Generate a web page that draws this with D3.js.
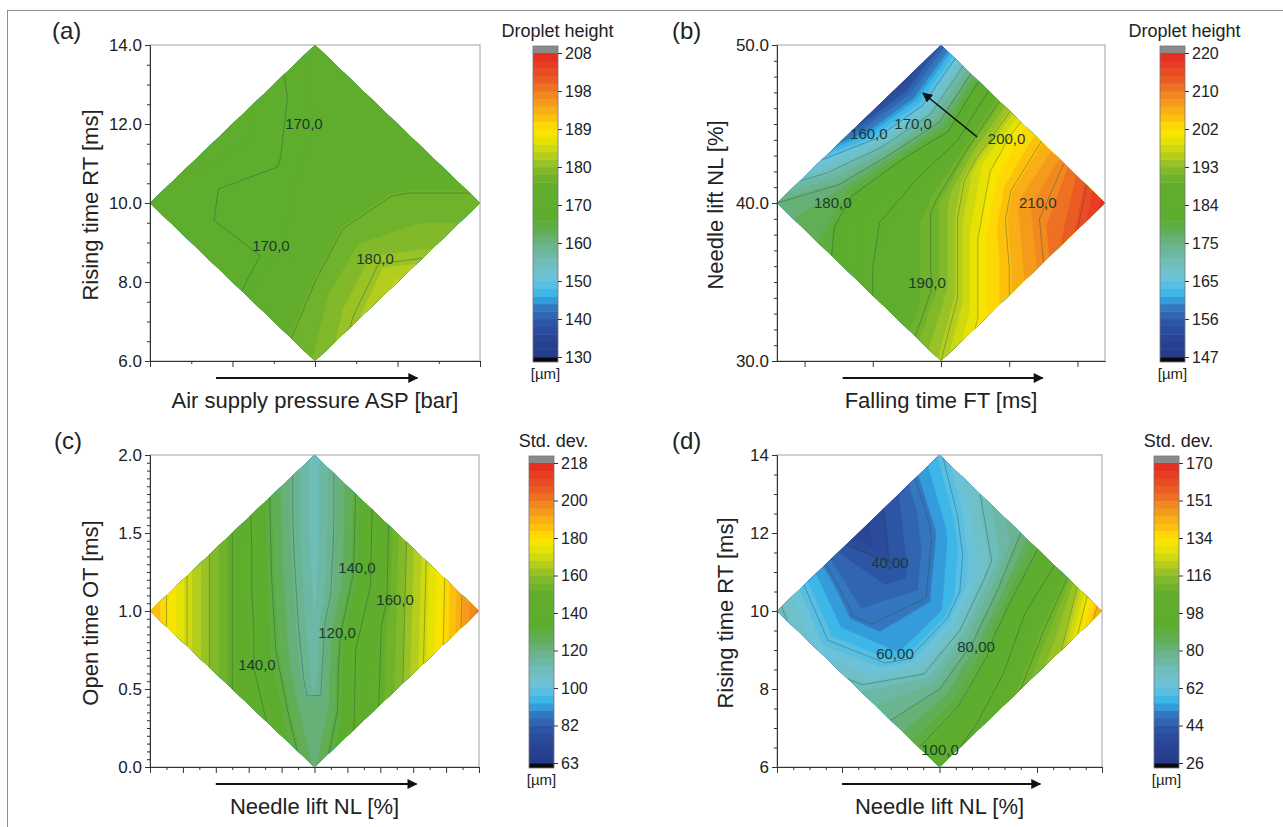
<!DOCTYPE html>
<html>
<head>
<meta charset="utf-8">
<script src="https://cdn.jsdelivr.net/npm/d3@7"></script>
<style>
body { margin: 0; background: #fff; }
svg { display: block; font-family: "Liberation Sans", Arial, sans-serif; }
</style>
</head>
<body>
<svg id="chart" width="1283" height="827"></svg>
<script>
// Node values on a 5x5 mesh laid over each diamond (the design space).
// rows: v = 0 .. 1  (upper-left edge -> lower-right edge)
// cols: u = 0 .. 1  (lower-left edge -> upper-right edge)
// so [0][0] = left corner, [0][4] = top, [4][0] = bottom, [4][4] = right corner
var grid_a = [
	[170, 168.5, 168.5, 169.5, 171.5],
	[169, 170.8, 169.8, 171, 172],
	[169, 170.5, 172, 172.5, 172.8],
	[173.5, 175, 176.5, 175.5, 173.5],
	[177, 180.5, 183, 178, 175.5]
];
var grid_b = [
	[175, 166, 155, 152, 156],
	[178, 183, 181, 176, 182],
	[184, 187, 191, 198, 201],
	[187, 191, 201, 208, 210],
	[195, 201, 207, 213, 219]
];
var grid_c = [
	[188, 168, 150, 128, 111],
	[168, 150, 129, 111, 130],
	[150, 131, 113, 131, 155],
	[138, 116, 140, 156, 176],
	[124, 141, 157, 177, 200]
];
var grid_d = [
	[72, 54, 34, 44, 59],
	[64, 48, 42, 52, 70],
	[72, 54, 54, 66, 80],
	[82, 80, 86, 98, 104],
	[98, 102, 110, 120, 145]
];

// colour bar ranges and tick labels (bottom -> top)
var range_a = [130, 208];
var range_b = [147, 220];
var range_c = [63, 218];
var range_d = [26, 170];
var cbar_a = ["130", "140", "150", "160", "170", "180", "189", "198", "208"];
var cbar_b = ["147", "156", "165", "175", "184", "193", "202", "210", "220"];
var cbar_c = ["63", "82", "100", "120", "140", "160", "180", "200", "218"];
var cbar_d = ["26", "44", "62", "80", "98", "116", "134", "151", "170"];

// y axis tick labels
var yticks_a = [6, 8, 10, 12, 14];
var yticks_b = [30, 40, 50];
var yticks_c = [0, 0.5, 1, 1.5, 2];
var yticks_d = [6, 8, 10, 12, 14];

// x axes are unlabeled, ticks in coded units (-1 .. 1)
var xticks_a = [-1, -0.5, 0, 0.5, 1];
var xticks_b = [-0.832, -0.416, 0, 0.416, 0.832];
var xticks_c = [-1, -0.8, -0.6, -0.4, -0.2, 0, 0.2, 0.4, 0.6, 0.8, 1];
var xticks_d = [-1, -0.6, 0, 0.6, 1];

// contour labels: [level, x (coded), y]
var labels_a = [[170, -0.067, 12.0], [170, -0.267, 8.91], [180, 0.364, 8.58]];
var labels_b = [[160, -0.44, 44.37], [170, -0.17, 45.0], [200, 0.40, 44.05],
	[180, -0.66, 40.0], [210, 0.59, 40.0], [190, -0.085, 34.94]];
var labels_c = [[140, 0.258, 1.276], [160, 0.49, 1.07], [120, 0.137, 0.859], [140, -0.35, 0.654]];
var labels_d = [[40, -0.305, 11.23], [60, -0.274, 8.9], [80, 0.225, 9.08], [100, 0.003, 6.44]];

// colour ramp of the bars (position 0 = bottom, 1 = top)
var rampPos = [0, 0.07, 0.12, 0.16, 0.18, 0.20, 0.23, 0.26, 0.30, 0.34, 0.38, 0.42, 0.46, 0.57,
	0.61, 0.645, 0.675, 0.72, 0.75, 0.785, 0.82, 0.86, 0.90, 0.95, 1];
var rampCol = ["#243a8a", "#2a4696", "#2e58a8", "#3474bc", "#3a8ed2", "#2cb2ea", "#52bde6", "#6cc2d8",
	"#70bfc2", "#6cb8a2", "#68b182", "#60ad4c", "#5cac2e", "#62ae2c", "#80b82a", "#a0c526", "#c4d416",
	"#ece500", "#ffe400", "#fcc20c", "#f8a818", "#f28a20", "#ec6424", "#e84424", "#e42820"];
var NB_BANDS = 40;

var ramp = d3.scaleLinear().domain(rampPos).range(rampCol).interpolate(d3.interpolateRgb);
var de = d3.formatLocale({decimal: ",", thousands: ".", grouping: [3], currency: ["", ""]});
var fmtLevel = de.format(".4r");

var svg = d3.select("#chart");
var defs = svg.append("defs");

// outer frame of the figure (only top and left edge fall inside the picture)
svg.append("rect")
	.attr("x", 7.5).attr("y", 10.5)
	.attr("width", 1290).attr("height", 840)
	.attr("fill", "none").attr("stroke", "#8c8c8c").attr("stroke-width", 1);

defs.append("marker")
	.attr("id", "head")
	.attr("viewBox", "0 0 10 10")
	.attr("refX", 9).attr("refY", 5)
	.attr("markerUnits", "userSpaceOnUse")
	.attr("markerWidth", 13).attr("markerHeight", 10)
	.attr("orient", "auto")
	.append("path").attr("d", "M0,0L10,5L0,10Z").attr("fill", "#111");

var panels = [
	{id: "a", letter: "(a)", grid: grid_a, range: range_a, cbar: cbar_a, yDomain: [6, 14], yticks: yticks_a,
		yfmt: ".1f", yminor: 0.5, xticks: xticks_a, xminor: [-0.75, -0.25, 0.25, 0.75], lineStep: 5,
		labels: labels_a, cbTitle: "Droplet height", xTitle: "Air supply pressure ASP [bar]",
		yTitle: "Rising time RT [ms]", box: [150, 480, 45, 361], cbX: 533, lx: 52, ytx: 98},
	{id: "b", letter: "(b)", grid: grid_b, range: range_b, cbar: cbar_b, yDomain: [30, 50], yticks: yticks_b,
		yfmt: ".1f", yminor: 1, xticks: xticks_b, xminor: [], lineStep: 5,
		labels: labels_b, cbTitle: "Droplet height", xTitle: "Falling time FT [ms]",
		yTitle: "Needle lift NL [%]", box: [777, 1105, 45, 361], cbX: 1160, lx: 672, ytx: 723, arrow: [[0.22, 44.18], [-0.11, 46.96]]},
	{id: "c", letter: "(c)", grid: grid_c, range: range_c, cbar: cbar_c, yDomain: [0, 2], yticks: yticks_c,
		yfmt: ".1f", yminor: 0.05, xticks: xticks_c, xminor: [-0.9, -0.7, -0.5, -0.3, -0.1, 0.1, 0.3, 0.5, 0.7, 0.9], lineStep: 10,
		labels: labels_c, cbTitle: "Std. dev.", xTitle: "Needle lift NL [%]",
		yTitle: "Open time OT [ms]", box: [150, 479, 455, 767], cbX: 529, lx: 54, ytx: 98},
	{id: "d", letter: "(d)", grid: grid_d, range: range_d, cbar: cbar_d, yDomain: [6, 14], yticks: yticks_d,
		yfmt: "d", yminor: 0.5, xticks: xticks_d, xminor: [-0.9, -0.8, -0.7, -0.5, -0.4, -0.3, -0.2, -0.1, 0.1, 0.2, 0.3, 0.4, 0.5, 0.7, 0.8, 0.9], lineStep: 10,
		labels: labels_d, cbTitle: "Std. dev.", xTitle: "Needle lift NL [%]",
		yTitle: "Rising time RT [ms]", box: [777, 1102, 455, 767], cbX: 1154, lx: 672, ytx: 733}
];

panels.forEach(drawPanel);

function drawPanel(p) {
	var x0 = p.box[0], x1 = p.box[1], y0 = p.box[2], y1 = p.box[3];
	var g = svg.append("g");
	var x = d3.scaleLinear().domain([-1, 1]).range([x0, x1]);
	var y = d3.scaleLinear().domain(p.yDomain).range([y1, y0]);
	var n = p.grid.length;
	var values = [].concat.apply([], p.grid);
	var ymid = (p.yDomain[0] + p.yDomain[1]) / 2;
	var yhalf = (p.yDomain[1] - p.yDomain[0]) / 2;

	// mesh coordinates -> data -> screen
	var proj = d3.geoTransform({
		point: function(cx, cy) {
			var u = (cx - 0.5) / (n - 1), v = (cy - 0.5) / (n - 1);
			this.stream.point(x(-1 + u + v), y(ymid + (u - v) * yhalf));
		}
	});
	var path = d3.geoPath(proj);

	var diamond = [[x(-1), y(ymid)], [x(0), y(p.yDomain[1])], [x(1), y(ymid)], [x(0), y(p.yDomain[0])]];
	defs.append("clipPath").attr("id", "clip-" + p.id)
		.append("polygon").attr("points", diamond.map(d => d.join(",")).join(" "));

	var lo = p.range[0], hi = p.range[1];
	var thr = d3.range(NB_BANDS).map(k => lo + k * (hi - lo) / NB_BANDS);
	var bands = d3.contours().size([n, n]).thresholds(thr)(values);

	var plot = g.append("g").attr("clip-path", "url(#clip-" + p.id + ")");
	plot.selectAll("path.band")
		.data(bands)
		.join("path")
		.attr("class", "band")
		.attr("d", path)
		.attr("fill", (d, i) => ramp((i + 0.5) / NB_BANDS))
		.attr("stroke", (d, i) => ramp((i + 0.5) / NB_BANDS))
		.attr("stroke-width", 0.4);

	var levels = d3.range(Math.ceil(lo / p.lineStep) * p.lineStep, hi, p.lineStep);
	var lines = d3.contours().size([n, n]).thresholds(levels)(values);
	plot.selectAll("path.iso")
		.data(lines)
		.join("path")
		.attr("class", "iso")
		.attr("d", path)
		.attr("fill", "none")
		.attr("stroke", "#1d4a3c")
		.attr("stroke-opacity", 0.45)
		.attr("stroke-width", 0.8);

	g.selectAll("text.lvl")
		.data(p.labels)
		.join("text")
		.attr("class", "lvl")
		.attr("x", d => x(d[1]))
		.attr("y", d => y(d[2]))
		.attr("dy", "0.35em")
		.attr("text-anchor", "middle")
		.attr("font-size", 15)
		.attr("fill", "#1b3a30")
		.text(d => fmtLevel(d[0]));

	if (p.arrow) {
		g.append("line")
			.attr("x1", x(p.arrow[0][0])).attr("y1", y(p.arrow[0][1]))
			.attr("x2", x(p.arrow[1][0])).attr("y2", y(p.arrow[1][1]))
			.attr("stroke", "#111").attr("stroke-width", 1.5)
			.attr("marker-end", "url(#head)");
	}

	// frame
	g.append("rect")
		.attr("x", x0).attr("y", y0).attr("width", x1 - x0).attr("height", y1 - y0)
		.attr("fill", "none").attr("stroke", "#a0a0a0").attr("stroke-width", 1);

	// y axis
	var yMinorVals = d3.range(p.yDomain[0], p.yDomain[1] + 1e-9, p.yminor);
	g.append("g")
		.attr("transform", "translate(" + x0 + ",0)")
		.call(d3.axisLeft(y).tickValues(yMinorVals).tickFormat("").tickSize(3).tickSizeOuter(0));
	g.append("g")
		.attr("class", "yax")
		.attr("transform", "translate(" + x0 + ",0)")
		.call(d3.axisLeft(y).tickValues(p.yticks).tickFormat(d3.format(p.yfmt)).tickSize(5).tickSizeOuter(0).tickPadding(3));

	// x axis
	g.append("g")
		.attr("transform", "translate(0," + y1 + ")")
		.call(d3.axisBottom(x).tickValues(p.xminor).tickFormat("").tickSize(3).tickSizeOuter(0));
	g.append("g")
		.attr("transform", "translate(0," + y1 + ")")
		.call(d3.axisBottom(x).tickValues(p.xticks).tickFormat("").tickSize(6).tickSizeOuter(0));

	g.selectAll(".domain").attr("stroke", "#333");
	g.selectAll(".tick line").attr("stroke", "#333");
	g.selectAll(".yax text").attr("font-size", 17).attr("fill", "#222")
		.attr("font-family", "'Liberation Sans', Arial, sans-serif");

	// direction arrow under the x axis
	g.append("line")
		.attr("x1", x(-0.6)).attr("x2", x(0.62))
		.attr("y1", y1 + 17).attr("y2", y1 + 17)
		.attr("stroke", "#111").attr("stroke-width", 2)
		.attr("marker-end", "url(#head)");

	g.append("text")
		.attr("x", x(0)).attr("y", y1 + 47)
		.attr("text-anchor", "middle").attr("font-size", 22).attr("fill", "#222")
		.text(p.xTitle);

	g.append("text")
		.attr("transform", "translate(" + p.ytx + "," + ((y0 + y1) / 2 + 2) + ") rotate(-90)")
		.attr("text-anchor", "middle").attr("font-size", 22).attr("fill", "#222")
		.text(p.yTitle);

	g.append("text")
		.attr("x", p.lx).attr("y", y0 - 6)
		.attr("font-size", 24).attr("fill", "#222")
		.text(p.letter);

	// colour bar
	var cw = 25, ctop = y0 + 8, cbot = y1 - 4;
	var cy = d3.scaleLinear().domain([lo, hi]).range([cbot, ctop]);
	var cb = g.append("g");
	cb.append("rect").attr("x", p.cbX).attr("y", ctop - 7).attr("width", cw).attr("height", 7).attr("fill", "#8a8a8a");
	cb.append("rect").attr("x", p.cbX).attr("y", cbot).attr("width", cw).attr("height", 5).attr("fill", "#0a0a0a");
	cb.selectAll("rect.step")
		.data(thr)
		.join("rect")
		.attr("class", "step")
		.attr("x", p.cbX)
		.attr("y", d => cy(d + (hi - lo) / NB_BANDS))
		.attr("width", cw)
		.attr("height", d => cy(d) - cy(d + (hi - lo) / NB_BANDS) + 0.5)
		.attr("fill", (d, i) => ramp((i + 0.5) / NB_BANDS));
	cb.append("rect").attr("x", p.cbX).attr("y", ctop - 7).attr("width", cw).attr("height", cbot - ctop + 12)
		.attr("fill", "none").attr("stroke", "#777").attr("stroke-width", 0.8);

	var cpos = d3.scalePoint().domain(p.cbar).range([cbot, ctop]);
	var cax = cb.append("g")
		.attr("transform", "translate(" + (p.cbX + cw) + ",0)")
		.call(d3.axisRight(cpos).tickSize(4).tickPadding(3).tickSizeOuter(0));
	cax.select(".domain").remove();
	cax.selectAll(".tick line").attr("stroke", "#333");
	cax.selectAll("text").attr("font-size", 16).attr("fill", "#222")
		.attr("font-family", "'Liberation Sans', Arial, sans-serif");

	cb.append("text")
		.attr("x", p.cbX + cw / 2 + 12).attr("y", y0 - 8)
		.attr("text-anchor", "middle").attr("font-size", 18).attr("fill", "#222")
		.text(p.cbTitle);
	cb.append("text")
		.attr("x", p.cbX + cw / 2).attr("y", cbot + 22)
		.attr("text-anchor", "middle").attr("font-size", 15).attr("fill", "#222")
		.text("[µm]");
}
</script>
</body>
</html>
